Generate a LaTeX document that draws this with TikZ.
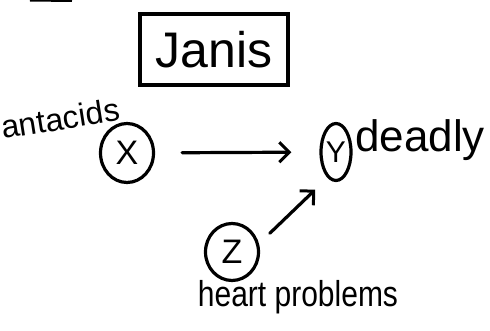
\documentclass[tikz,border=0pt]{standalone}
\usepackage{fontspec}
\setmainfont{Liberation Sans}
\usetikzlibrary{arrows.meta,shapes.geometric}

\begin{document}
\begin{tikzpicture}[x=1pt,y=-1pt,
  ink/.style={line width=3.2pt,line cap=round},
  var/.style={ellipse,draw,ink,inner sep=0pt,font=\fontsize{34}{34}\selectfont},
  word/.style={inner sep=0pt,font=\fontsize{#1}{#1}\selectfont},
  causes/.style={ink,-{Straight Barb[length=10pt,width=20pt,line width=3pt]}}]
\useasboundingbox (0,0) rectangle (490,331);
\draw[line width=3pt] (30,0) -- (72,0.5);
\node[draw,ink,minimum width=148pt,minimum height=71pt,word=50] (janis) at (214,49.5) {Janis};
\node[var,minimum width=53pt,minimum height=59pt] (x) at (127,153) {X};
\node[var,minimum width=30pt,minimum height=57pt,font=\fontsize{30}{30}\selectfont] (y) at (336,152) {Y};
\node[var,minimum width=53pt,minimum height=57pt] (z) at (232,252) {Z};
\node[word=32,rotate=9,anchor=base west] (antacids) at (3,139) {antacids};
\node[word=44,anchor=west] (deadly) at (355,140) {deadly};
\node[word=30,yscale=1.2] (heart) at (298,297) {heart problems};
\draw[causes,shorten <=27pt,shorten >=28pt] (x) -- (y);
\draw[causes,transform canvas={xshift=9pt,yshift=-9pt},shorten <=11pt,shorten >=21pt] (z) -- (y);
\end{tikzpicture}
\end{document}
